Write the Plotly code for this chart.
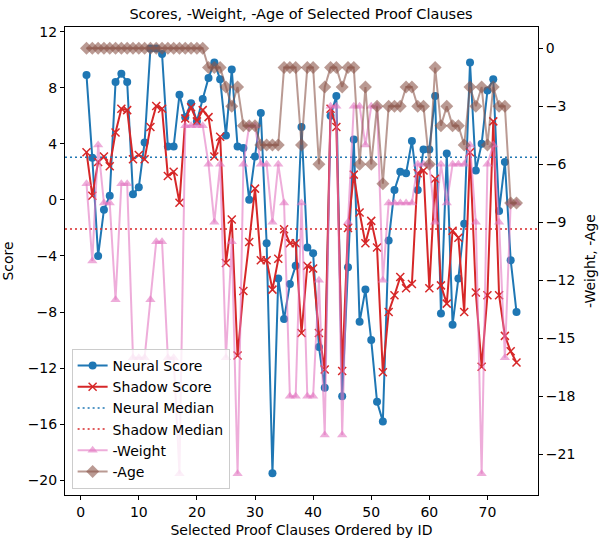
import plotly.graph_objects as go

clause_ids = list(range(1, 76))

neural_score = [8.9, 3.0, -4.0, -0.7, 0.3, 8.4, 9.0, 8.4, 0.4, 0.9,
                4.1, 10.8, 10.8, 10.4, 3.8, 3.8, 7.5, 5.9, 6.9, 5.6,
                7.2, 8.7, 9.8, 8.6, 4.6, 9.3, 3.8, 3.7, 0.0, 3.1,
                6.2, -3.1, -19.5, -5.6, -8.5, -6.0, -4.7, 5.2, -3.4, -3.8,
                -10.5, -13.4, 6.0, 7.4, -14.0, -4.8, 4.3, -8.7, -6.4, -10.0,
                -14.4, -15.8, -2.9, 0.7, 2.0, 1.9, 4.2, 0.7, 3.6, 3.6,
                7.4, -8.1, 3.3, -8.9, -5.6, -1.7, 9.8, 2.1, 4.0, 7.8,
                8.6, -0.8, 2.7, -4.3, -8.0]

shadow_score = [3.4, 0.3, 2.7, 3.1, 2.4, 4.8, 6.5, 6.4, 2.9, 3.2,
                2.9, 5.2, 6.7, 6.5, 1.7, 2.0, -0.2, 5.8, 6.6, 5.6,
                6.4, 5.9, 3.1, 4.5, -4.5, -1.4, -11.1, -6.5, -3.0, 0.8,
                -4.3, -4.3, -6.4, -4.2, -2.1, -3.1, -3.1, -9.5, -4.7, -4.9,
                -9.5, -12.1, 6.5, 5.2, -12.2, -2.0, 1.8, -0.9, -3.1, -1.5,
                -3.4, -12.3, -8.0, -6.8, -5.5, -6.3, -6.0, 1.9, 2.1, -6.3,
                1.5, -6.1, -7.4, -2.2, -2.7, -8.0, 3.4, -6.6, -11.9, -6.8,
                5.6, -6.8, -9.7, -10.8, -11.6]

neg_weight = [-7, -11, -5, -8, -8, -13, -7, -7, -16, -16,
              -16, -13, -10, -10, -16, -16, -22, -4, -4, -4,
              -4, -6, -9, -6, -16, -10, -22, -6, -4, -4,
              -6, -6, -9, -6, -8, -18, -18, -8, -18, -18,
              -12, -20, -3, -3, -20, -9, -3, -3, -5, -3,
              -3, -12, -8, -8, -8, -8, -8, -6, -6, -6,
              -9, -6, -8, -6, -6, -6, -5, -9, -22, -6,
              -5, -9, -16, -8, -8]

neg_age = [0, 0, 0, 0, 0, 0, 0, 0, 0, 0,
           0, 0, 0, 0, 0, 0, 0, 0, 0, 0,
           0, -1, -1, -1, -2, -3, -2, -4, -4, -4,
           -5, -5, -5, -5, -1, -1, -1, -5, -1, -1,
           -6, -2, -1, -1, -2, -1, -1, -6, -2, -6,
           -3, -7, -3, -3, -3, -2, -2, -3, -3, -6,
           -1, -4, -3, -4, -4, -5, -2, -3, -2, -5,
           -2, -3, -3, -8, -8]

neural_median = 3.04
shadow_median = -2.07

x_range = [-2.7, 78.7]
y_range = [-21.05, 12.33]
y2_range = [-23.1, 1.1]

x_ticks = [0, 10, 20, 30, 40, 50, 60, 70]
y_ticks = [12, 8, 4, 0, -4, -8, -12, -16, -20]
y2_ticks = [0, -3, -6, -9, -12, -15, -18, -21]


def lab(v):
    return str(v) if v >= 0 else "\u2212" + str(-v)


BLUE = "#1f77b4"
RED = "#d62728"
PINK = "rgba(227,119,194,0.6)"
BROWN = "rgba(140,86,75,0.6)"
FONT = "DejaVu Sans"

fig = go.Figure()
fig.add_trace(go.Scatter(x=clause_ids, y=neural_score, name="Neural Score",
                         mode="lines+markers", line=dict(color=BLUE, width=2),
                         marker=dict(symbol="circle", size=8, color=BLUE)))
fig.add_trace(go.Scatter(x=clause_ids, y=shadow_score, name="Shadow Score",
                         mode="lines+markers", line=dict(color=RED, width=2),
                         marker=dict(symbol="x-thin", size=8, color=RED,
                                     line=dict(color=RED, width=1.5))))
fig.add_trace(go.Scatter(x=x_range, y=[neural_median, neural_median], name="Neural Median",
                         mode="lines", line=dict(color=BLUE, width=1.5, dash="2px,3px")))
fig.add_trace(go.Scatter(x=x_range, y=[shadow_median, shadow_median], name="Shadow Median",
                         mode="lines", line=dict(color=RED, width=1.5, dash="2px,3px")))
fig.add_trace(go.Scatter(x=clause_ids, y=neg_weight, name="-Weight", yaxis="y2",
                         mode="lines+markers", line=dict(color=PINK, width=2),
                         marker=dict(symbol="triangle-up", size=9, color=PINK)))
fig.add_trace(go.Scatter(x=clause_ids, y=neg_age, name="-Age", yaxis="y2",
                         mode="lines+markers", line=dict(color=BROWN, width=2),
                         marker=dict(symbol="diamond", size=10, color=BROWN)))

axis_common = dict(showline=True, linecolor="black", linewidth=1, ticks="outside",
                   ticklen=4, tickwidth=1, tickcolor="black", showgrid=False,
                   zeroline=False, automargin=False,
                   tickfont=dict(family=FONT, size=14, color="black"))

fig.update_layout(
    width=602, height=539,
    margin=dict(l=65, r=64, t=27, b=44),
    paper_bgcolor="white", plot_bgcolor="white",
    font=dict(family=FONT, size=14, color="black"),
    title=dict(text="Scores, -Weight, -Age of Selected Proof Clauses",
               x=0.5, xanchor="center", y=1 - 14 / 539, yanchor="middle",
               font=dict(family=FONT, size=14.5, color="black")),
    xaxis=dict(range=x_range, tickvals=x_ticks, ticktext=[lab(v) for v in x_ticks],
               mirror=True,
               title=dict(text="Selected Proof Clauses Ordered by ID", standoff=6,
                          font=dict(family=FONT, size=14)),
               **axis_common),
    yaxis=dict(range=y_range, tickvals=y_ticks, ticktext=[lab(v) for v in y_ticks],
               title=dict(text="Score", standoff=12, font=dict(family=FONT, size=14)),
               **axis_common),
    yaxis2=dict(range=y2_range, tickvals=y2_ticks, ticktext=[lab(v) for v in y2_ticks],
                overlaying="y", side="right",
                title=dict(text="-Weight, -Age", standoff=10, font=dict(family=FONT, size=14)),
                **axis_common),
    legend=dict(x=0.014, y=0.013, xanchor="left", yanchor="bottom",
                bgcolor="rgba(255,255,255,0.8)", bordercolor="#cccccc", borderwidth=1,
                font=dict(family=FONT, size=14, color="black"), tracegroupgap=0),
    showlegend=True,
)

fig.write_html("out.html", config={"displayModeBar": False},
               post_script="document.body.style.margin='0';")
